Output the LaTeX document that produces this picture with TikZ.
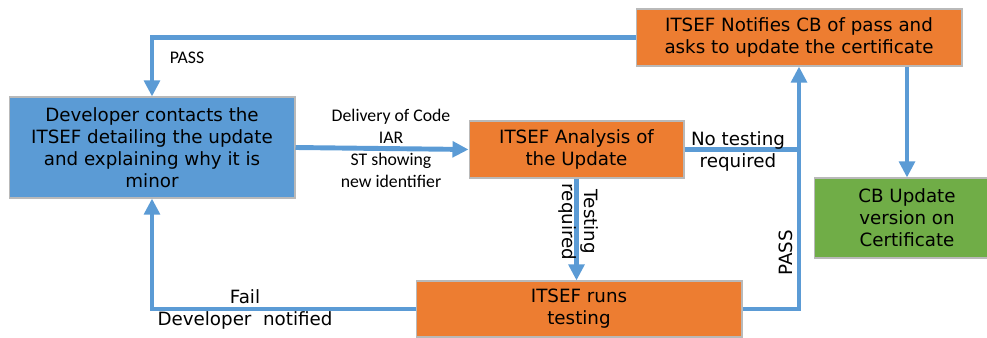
\documentclass[tikz,border=0pt]{standalone}
\usepackage{fontspec}
\setmainfont{DejaVu Sans}
\newfontfamily\calfont{Carlito}
\usetikzlibrary{arrows.meta}
\definecolor{devblue}{HTML}{5B9BD5}
\definecolor{itsef}{HTML}{ED7D31}
\definecolor{cbgreen}{HTML}{70AD47}
\tikzset{>={Triangle[length=0.32cm,width=0.31cm]}}
\tikzset{
    stepbox/.style={draw=gray!55,line width=0.6pt,inner sep=0pt,align=center,
        font=\fontsize{10.4}{12.5}\selectfont},
    flow/.style={draw=devblue,line width=2.8pt,->},
    plain/.style={draw=devblue,line width=2.8pt},
    small/.style={align=center,inner sep=0pt,font=\calfont\fontsize{10.1}{12.5}\selectfont},
    big/.style={align=center,inner sep=0pt,font=\fontsize{10.4}{12.5}\selectfont}
}

\begin{document}
\begin{tikzpicture}[x=0.02cm,y=-0.02cm]
            \clip (0,0) rectangle (987,338);
            \node[stepbox,fill=devblue,minimum width=5.72cm,minimum height=2.02cm] (dev) at (152,147.5)
                {Developer contacts the\\ITSEF detailing the update\\and explaining why it is\\minor};
            \node[stepbox,fill=itsef,minimum width=4.30cm,minimum height=1.14cm] (ana) at (576.5,149.5)
                {ITSEF Analysis of\\the Update};
            \node[stepbox,fill=itsef,minimum width=6.52cm,minimum height=1.14cm] (top) at (799,37.5)
                {ITSEF Notifies CB of pass and\\asks to update the certificate};
            \node[stepbox,fill=cbgreen,minimum width=3.72cm,minimum height=1.60cm] (cb) at (907,218)
                {CB Update\\version on\\Certificate};
            \node[stepbox,fill=itsef,minimum width=6.52cm,minimum height=1.12cm] (test) at (579,309)
                {ITSEF runs\\testing};
            % connectors
            \draw[flow] (top.west) -| (dev.north);
            \draw[flow] (dev.east) -- (ana.west);
            \draw[plain] (ana.east) -- (ana.east -| top.south);
            \draw[flow] (test.east) -| (top.south);
            \draw[flow] (cb.north |- top.south) -- (cb.north);
            \draw[flow] (ana.south) -- (ana.south |- test.north);
            \draw[flow] (test.west) -| (dev.south);
            % labels
            \node[small] (passtop) at (187,58) {PASS};
            \node[small] (delivery) at (391,148) {Delivery of Code\\IAR\\ST showing\\new identifier};
            \node[big] (notest) at (738,151) {No testing\\required};
            \node[big,rotate=90] (passright) at (786,253) {PASS};
            \node[big,rotate=-90] (testreq) at (579,222) {Testing\\required};
            \node[big] (fail) at (245,309) {Fail\\Developer\ \ notified};
        \end{tikzpicture}
\end{document}
